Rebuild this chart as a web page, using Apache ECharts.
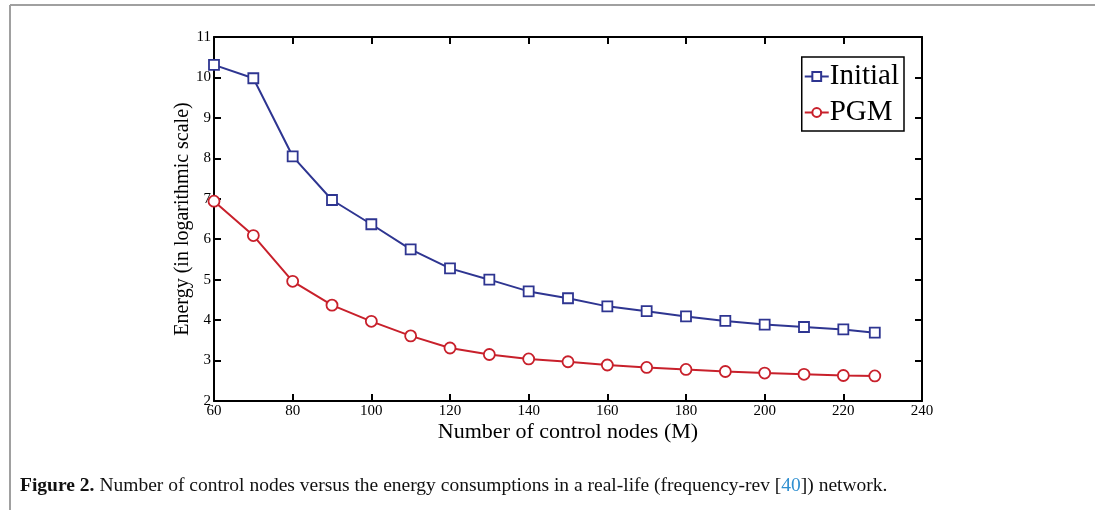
<!DOCTYPE html>
<html>
<head>
<meta charset="utf-8">
<script src="https://cdn.jsdelivr.net/npm/echarts@6/dist/echarts.min.js"></script>
<style>
  html, body { margin: 0; padding: 0; background: #fff; }
  #chart { width: 1095px; height: 510px; }
</style>
</head>
<body>
<div id="chart"></div>
<script>
// control nodes (M)
var nodes = [60, 70, 80, 90, 100, 110, 120, 130, 140, 150, 160, 170, 180, 190, 200, 210, 220, 228];
// energy, log scale
var initial = [10.31, 9.98, 8.05, 6.97, 6.37, 5.75, 5.28, 5.0, 4.71, 4.54, 4.34, 4.22, 4.09, 3.98, 3.89, 3.83, 3.77, 3.69];
var pgm = [6.94, 6.09, 4.96, 4.37, 3.97, 3.61, 3.31, 3.15, 3.04, 2.97, 2.89, 2.83, 2.78, 2.73, 2.69, 2.66, 2.63, 2.62];

function pairs(ys) {
  return nodes.map(function (x, i) { return [x, ys[i]]; });
}

var serif = '"Liberation Serif", "Times New Roman", serif';
var chart = echarts.init(document.getElementById('chart'));

var axisBase = {
  axisLine: { show: true, onZero: false, lineStyle: { color: '#000', width: 2 } },
  axisTick: { show: true, inside: true, length: 7, lineStyle: { color: '#000', width: 2 } },
  splitLine: { show: false }
};

var option = {
  animation: false,
  title: {
    left: 15,
    top: 471,
    text: '{b|Figure 2.} {r|Number of control nodes versus the energy consumptions in a real-life (frequency-rev [}{c|40}{r|]) network.}',
    textStyle: {
      fontWeight: 'normal',
      rich: {
        b: { fontFamily: serif, fontWeight: 'bold', fontSize: 19.5, color: '#111' },
        r: { fontFamily: serif, fontWeight: 'normal', fontSize: 19.5, color: '#111' },
        c: { fontFamily: serif, fontWeight: 'normal', fontSize: 19.5, color: '#2f8fd0' }
      }
    }
  },
  graphic: [
    { type: 'line', shape: { x1: 10, y1: 5, x2: 1095, y2: 5 }, style: { stroke: '#a0a0a0', lineWidth: 2 } },
    { type: 'line', shape: { x1: 10, y1: 5, x2: 10, y2: 510 }, style: { stroke: '#a0a0a0', lineWidth: 2 } }
  ],
  grid: { left: 214, right: 173, top: 37, bottom: 109 },
  legend: {
    orient: 'vertical',
    right: 191,
    top: 57,
    padding: [5, 5, 4, 2],
    itemGap: 7,
    itemWidth: 24,
    itemHeight: 11,
    borderColor: '#000',
    borderWidth: 1.5,
    backgroundColor: '#fff',
    textStyle: { fontFamily: serif, fontSize: 29, color: '#000', padding: [0, 0, 0, -4] },
    data: ['Initial', 'PGM']
  },
  xAxis: [
    Object.assign({
      type: 'value', min: 60, max: 240, interval: 20,
      name: 'Number of control nodes (M)',
      nameLocation: 'middle',
      nameGap: 20,
      nameMoveOverlap: false,
      nameTextStyle: { fontFamily: serif, fontSize: 22, color: '#000' },
      axisLabel: { fontFamily: serif, fontSize: 15, color: '#000', margin: 3 }
    }, axisBase),
    Object.assign({
      type: 'value', min: 60, max: 240, interval: 20, position: 'top',
      axisLabel: { show: false }
    }, axisBase)
  ],
  yAxis: [
    Object.assign({
      type: 'value', min: 2, max: 11, interval: 1,
      name: 'Energy (in logarithmic scale)',
      nameLocation: 'middle',
      nameGap: 21,
      nameMoveOverlap: false,
      nameTextStyle: { fontFamily: serif, fontSize: 20, color: '#000' },
      axisLabel: { fontFamily: serif, fontSize: 15, color: '#000', margin: 3 }
    }, axisBase),
    Object.assign({
      type: 'value', min: 2, max: 11, interval: 1, position: 'right',
      axisLabel: { show: false }
    }, axisBase)
  ],
  series: [
    {
      name: 'Initial',
      type: 'line',
      data: pairs(initial),
      symbol: 'rect',
      symbolSize: 10,
      lineStyle: { color: '#2e3591', width: 2 },
      itemStyle: { color: '#fff', borderColor: '#2e3591', borderWidth: 1.8 }
    },
    {
      name: 'PGM',
      type: 'line',
      data: pairs(pgm),
      symbol: 'circle',
      symbolSize: 11,
      lineStyle: { color: '#c8202b', width: 2 },
      itemStyle: { color: '#fff', borderColor: '#c8202b', borderWidth: 1.8 }
    }
  ]
};

chart.setOption(option);
</script>
</body>
</html>
